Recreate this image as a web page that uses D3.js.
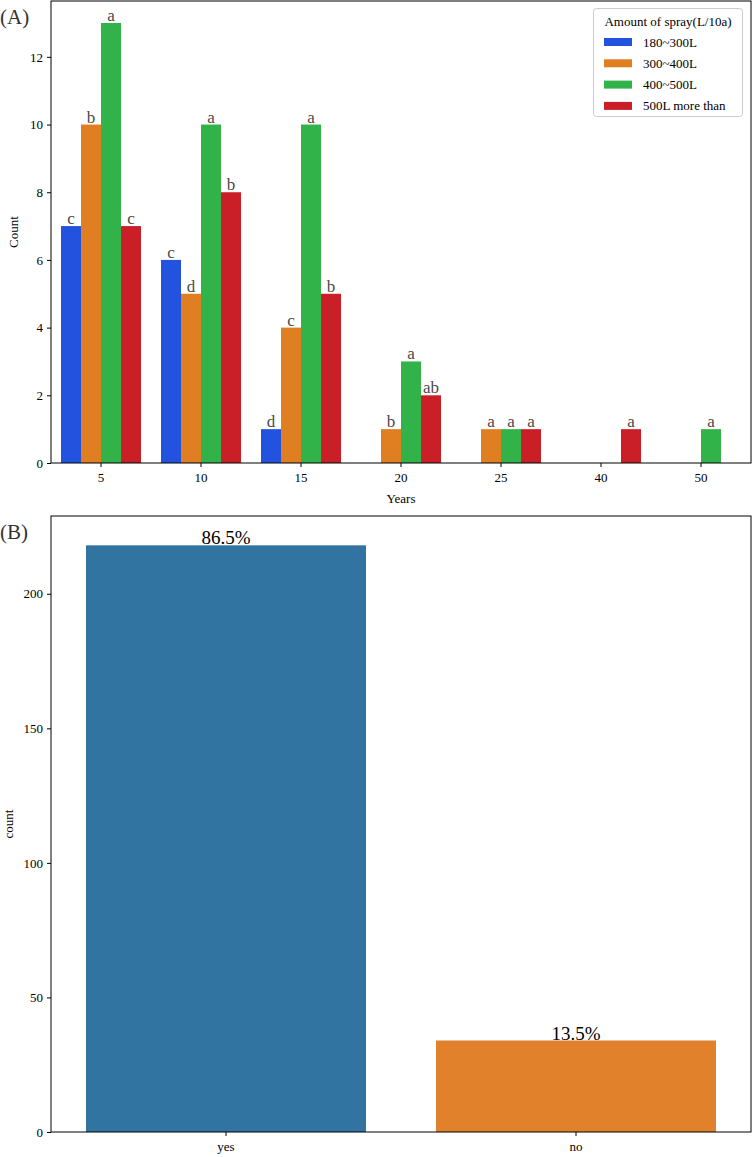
<!DOCTYPE html>
<html><head><meta charset="utf-8">
<script src="https://cdn.jsdelivr.net/npm/d3@7"></script>
<style>body{margin:0;background:#fff}text{font-family:"Liberation Serif","DejaVu Serif",serif}</style>
</head><body><svg id="c" width="752" height="1157"></svg>
<script>
const years = ["5","10","15","20","25","40","50"];
const sprayGroups = ["180~300L","300~400L","400~500L","500L more than"];
const groupColors = ["#2352df","#e07f22","#31b34a","#cb1f28"];
const count180 = [7,6,1,null,null,null,null];
const count300 = [10,5,4,1,1,null,null];
const count400 = [13,10,10,3,1,null,1];
const count500 = [7,8,5,2,1,1,null];
const letters180 = ["c","c","d","","","",""];
const letters300 = ["b","d","c","b","a","",""];
const letters400 = ["a","a","a","a","a","","a"];
const letters500 = ["c","b","b","ab","a","a",""];
const yTicksA = [0,2,4,6,8,10,12];
const answers = ["yes","no"];
const answerCounts = [218,34];
const answerColors = ["#3274a1","#e1812c"];
const yTicksB = [0,50,100,150,200];

const svg = d3.select("#c");
const series = [count180,count300,count400,count500];
const letters = [letters180,letters300,letters400,letters500];

// Panel A
const A = {l:51,r:751,t:1,b:463};
const xA = d3.scaleBand().domain(years).range([A.l,A.r]).paddingInner(0).paddingOuter(0);
const xSub = d3.scaleBand().domain(sprayGroups).range([xA.bandwidth()*0.1,xA.bandwidth()*0.9]).padding(0);
const yA = d3.scaleLinear().domain([0,13.65]).range([A.b,A.t]);
const gA = svg.append("g");
series.forEach((vals,si)=>{
  vals.forEach((v,i)=>{
    if(v==null) return;
    const x = xA(years[i])+xSub(sprayGroups[si]);
    gA.append("rect").attr("x",x).attr("y",yA(v)).attr("width",xSub.bandwidth()).attr("height",yA(0)-yA(v)).attr("fill",groupColors[si]);
    const L = letters[si][i];
    if(L) gA.append("text").attr("x",x+xSub.bandwidth()/2).attr("y",yA(v)-2).attr("text-anchor","middle").attr("font-size",17).attr("fill","#4a4a4a").text(L);
  });
});
const styleAxis = g=>{g.selectAll("text").attr("font-size",13).style("font-family","'Liberation Serif', serif").attr("fill","#000");g.select(".domain").remove();g.selectAll("line").attr("stroke","#000");};
gA.append("g").attr("transform",`translate(${A.l},0)`).call(d3.axisLeft(yA).tickValues(yTicksA).tickSize(4).tickPadding(4)).call(styleAxis);
gA.append("g").attr("transform",`translate(0,${A.b})`).call(d3.axisBottom(xA).tickSize(4).tickPadding(6)).call(styleAxis);
gA.append("rect").attr("x",A.l).attr("y",A.t).attr("width",A.r-A.l).attr("height",A.b-A.t).attr("fill","none").attr("stroke","#000").attr("stroke-width",1);
gA.append("text").attr("x",0).attr("y",24).attr("font-size",21).attr("fill","#333").text("(A)");
gA.append("text").attr("transform",`translate(18,${(A.t+A.b)/2}) rotate(-90)`).attr("text-anchor","middle").attr("font-size",13).text("Count");
gA.append("text").attr("x",(A.l+A.r)/2).attr("y",503).attr("text-anchor","middle").attr("font-size",13).text("Years");
// legend
const lg = gA.append("g");
lg.append("rect").attr("x",593.5).attr("y",8.5).attr("width",149).attr("height",108).attr("rx",3).attr("fill","#fff").attr("stroke","#ccc");
lg.append("text").attr("x",668).attr("y",26).attr("text-anchor","middle").attr("font-size",13).text("Amount of spray(L/10a)");
sprayGroups.forEach((s,i)=>{
  const y = 42+i*21.3;
  lg.append("rect").attr("x",604).attr("y",y-4).attr("width",28).attr("height",8).attr("fill",groupColors[i]);
  lg.append("text").attr("x",643).attr("y",y+4.5).attr("font-size",13).text(s);
});

// Panel B
const B = {l:51,r:751,t:516,b:1132};
const xB = d3.scaleBand().domain(answers).range([B.l,B.r]).paddingInner(0.2).paddingOuter(0.1);
const yB = d3.scaleLinear().domain([0,228.9]).range([B.b,B.t]);
const total = d3.sum(answerCounts);
const gB = svg.append("g");
answers.forEach((a,i)=>{
  gB.append("rect").attr("x",xB(a)).attr("y",yB(answerCounts[i])).attr("width",xB.bandwidth()).attr("height",yB(0)-yB(answerCounts[i])).attr("fill",answerColors[i]);
  gB.append("text").attr("x",xB(a)+xB.bandwidth()/2).attr("y",yB(answerCounts[i])-1).attr("text-anchor","middle").attr("font-size",19).text((answerCounts[i]/total*100).toFixed(1)+"%");
});
gB.append("g").attr("transform",`translate(${B.l},0)`).call(d3.axisLeft(yB).tickValues(yTicksB).tickSize(4).tickPadding(4)).call(styleAxis);
gB.append("g").attr("transform",`translate(0,${B.b})`).call(d3.axisBottom(xB).tickSize(4).tickPadding(6)).call(styleAxis);
gB.append("rect").attr("x",B.l).attr("y",B.t).attr("width",B.r-B.l).attr("height",B.b-B.t).attr("fill","none").attr("stroke","#000").attr("stroke-width",1);
gB.append("text").attr("x",0).attr("y",539).attr("font-size",21).attr("fill","#333").text("(B)");
gB.append("text").attr("transform",`translate(13,${(B.t+B.b)/2}) rotate(-90)`).attr("text-anchor","middle").attr("font-size",13).text("count");
</script></body></html>
